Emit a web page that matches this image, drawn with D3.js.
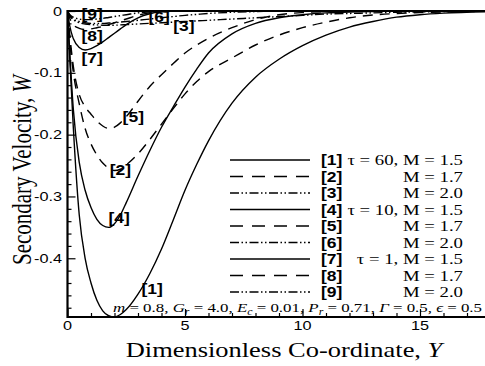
<!DOCTYPE html>
<html>
<head>
<meta charset="utf-8">
<script src="https://cdn.jsdelivr.net/npm/d3@7/dist/d3.min.js"></script>
<style>
  html, body { margin: 0; padding: 0; background: #fff; }
  svg { display: block; }
  .serif { font-family: "Liberation Serif", "Times New Roman", "DejaVu Serif", serif; }
  .sans { font-family: "Liberation Sans", Arial, sans-serif; }
</style>
</head>
<body>
<svg id="chart" width="485" height="366"></svg>
<script>
// Dimensionless coordinate Y at which each profile is tabulated
const yCoord = [0, 0.1, 0.25, 0.5, 0.75, 1, 1.25, 1.5, 1.75, 2, 2.25, 2.5, 3, 3.5, 4, 4.5, 5, 5.5, 6, 7, 8, 9, 10, 11, 12, 13, 14, 15, 16, 18, 20];

// Secondary velocity W for each (tau, M) case
const w1 = [0, -0.08, -0.19, -0.33, -0.40, -0.44, -0.468, -0.485, -0.493, -0.495, -0.491, -0.483, -0.458, -0.425, -0.385, -0.338, -0.29, -0.248, -0.21, -0.149, -0.107, -0.078, -0.056, -0.039, -0.026, -0.017, -0.010, -0.006, -0.0035, -0.001, 0];
const w2 = [0, -0.05, -0.10, -0.15, -0.19, -0.215, -0.233, -0.246, -0.254, -0.258, -0.256, -0.249, -0.231, -0.208, -0.183, -0.158, -0.134, -0.114, -0.098, -0.076, -0.055, -0.039, -0.027, -0.018, -0.011, -0.0065, -0.004, -0.0025, -0.0015, -0.0005, 0];
const w3 = [0, -0.008, -0.014, -0.019, -0.021, -0.022, -0.0225, -0.023, -0.023, -0.023, -0.0225, -0.022, -0.021, -0.02, -0.019, -0.018, -0.017, -0.016, -0.015, -0.013, -0.011, -0.009, -0.007, -0.005, -0.004, -0.003, -0.002, -0.0015, -0.001, -0.0005, 0];
const w4 = [0, -0.07, -0.16, -0.245, -0.29, -0.318, -0.337, -0.347, -0.35, -0.344, -0.33, -0.31, -0.267, -0.226, -0.188, -0.155, -0.123, -0.094, -0.068, -0.037, -0.02, -0.011, -0.006, -0.003, -0.0015, -0.0008, -0.0004, 0, 0, 0, 0];
const w5 = [0, -0.04, -0.09, -0.135, -0.155, -0.167, -0.178, -0.186, -0.19, -0.188, -0.181, -0.171, -0.146, -0.122, -0.103, -0.085, -0.068, -0.055, -0.044, -0.027, -0.014, -0.006, -0.0025, -0.001, 0, 0, 0, 0, 0, 0, 0];
const w6 = [0, -0.007, -0.013, -0.017, -0.019, -0.02, -0.02, -0.02, -0.0195, -0.019, -0.018, -0.017, -0.015, -0.013, -0.011, -0.009, -0.007, -0.0055, -0.004, -0.002, -0.001, 0, 0, 0, 0, 0, 0, 0, 0, 0, 0];
const w7 = [0, -0.025, -0.045, -0.059, -0.063, -0.061, -0.056, -0.05, -0.043, -0.036, -0.029, -0.022, -0.011, -0.0045, -0.0015, -0.0005, 0, 0, 0, 0, 0, 0, 0, 0, 0, 0, 0, 0, 0, 0, 0];
const w8 = [0, -0.012, -0.022, -0.028, -0.03, -0.029, -0.027, -0.025, -0.022, -0.019, -0.016, -0.013, -0.007, -0.003, -0.001, 0, 0, 0, 0, 0, 0, 0, 0, 0, 0, 0, 0, 0, 0, 0, 0];
const w9 = [0, -0.006, -0.01, -0.013, -0.014, -0.014, -0.013, -0.012, -0.0105, -0.009, -0.0075, -0.006, -0.003, -0.0015, -0.0005, 0, 0, 0, 0, 0, 0, 0, 0, 0, 0, 0, 0, 0, 0, 0, 0];

const seriesIds = ["[1]", "[2]", "[3]", "[4]", "[5]", "[6]", "[7]", "[8]", "[9]"];
const tauText = ["\u03C4 = 60, M = 1.5", "M = 1.7", "M = 2.0", "\u03C4 = 10, M = 1.5", "M = 1.7", "M = 2.0", "\u03C4 = 1, M = 1.5", "M = 1.7", "M = 2.0"];
const lineKind = ["solid", "dash", "dashdot", "solid", "dash", "dashdot", "solid", "dash", "dashdot"];
const seriesW = [w1, w2, w3, w4, w5, w6, w7, w8, w9];

// Curve labels placed inside the plot, in data units
const tagY = [3.6, 2.25, 4.95, 2.2, 2.8, 3.9, 1.05, 1.05, 1.05];
const tagW = [-0.45, -0.258, -0.025, -0.335, -0.171, -0.01, -0.076, -0.04, -0.005];

const xTicks = [0, 5, 10, 15];
const yTicks = [0, -0.1, -0.2, -0.3, -0.4];

const svg = d3.select("#chart");
const plotLeft = 67.5, plotTop = 11, plotBottom = 317, unit = 23.5;
const wide = 1.25; // horizontal stretch of the lettering

const x = d3.scaleLinear().domain([0, 20]).range([plotLeft, plotLeft + 20 * unit]);
const y = d3.scaleLinear().domain([-0.495, 0]).range([plotBottom, plotTop]);

const dashes = { solid: null, dash: "10,7", dashdot: "9,2.5,1.5,2.5,1.5,2.5" };

// Text helper: anchored at (px, py), stretched horizontally
function label(parent, px, py, cls, size, anchor, sx) {
  return parent.append("text")
    .attr("class", cls)
    .attr("transform", `translate(${px},${py}) scale(${sx || wide},1)`)
    .attr("text-anchor", anchor)
    .attr("font-size", size);
}

svg.append("clipPath").attr("id", "plotClip")
  .append("rect").attr("x", plotLeft).attr("y", plotTop - 1).attr("width", 600).attr("height", plotBottom - plotTop + 1);

const line = d3.line()
  .x(d => x(d[0]))
  .y(d => y(d[1]))
  .curve(d3.curveMonotoneX);

const curves = svg.append("g").attr("clip-path", "url(#plotClip)");
seriesW.forEach((w, i) => {
  curves.append("path")
    .datum(yCoord.map((v, k) => [v, w[k]]))
    .attr("d", line)
    .attr("fill", "none")
    .attr("stroke", "#000")
    .attr("stroke-width", 1.4)
    .attr("stroke-dasharray", dashes[lineKind[i]]);
});

// Axes with inward ticks
const xAxis = d3.axisTop(x).tickValues(d3.range(0, 21, 1)).tickSize(4).tickFormat("");
const gx = svg.append("g").attr("transform", `translate(0,${plotBottom})`).call(xAxis);
gx.selectAll(".tick line").attr("y2", d => d % 5 === 0 ? -8 : -4);
gx.select(".domain").remove();

const yMinor = d3.range(0, 25).map(k => -k * 0.02);
const yAxis = d3.axisRight(y).tickValues(yMinor).tickSize(4).tickFormat("");
const gy = svg.append("g").attr("transform", `translate(${plotLeft},0)`).call(yAxis);
gy.selectAll(".tick line").attr("x2", d => Math.abs(Math.round(d * 100)) % 10 === 0 ? 8 : 4);
gy.select(".domain").remove();
svg.selectAll(".tick line").attr("stroke", "#000").attr("stroke-width", 1.2);

// Frame
svg.append("line").attr("x1", plotLeft).attr("x2", 485).attr("y1", plotBottom).attr("y2", plotBottom).attr("stroke", "#000").attr("stroke-width", 2.2);
svg.append("line").attr("x1", plotLeft).attr("x2", 485).attr("y1", plotTop).attr("y2", plotTop).attr("stroke", "#000").attr("stroke-width", 2);
svg.append("line").attr("x1", plotLeft).attr("x2", plotLeft).attr("y1", plotTop - 1).attr("y2", plotBottom + 1).attr("stroke", "#000").attr("stroke-width", 2.2);

// Tick labels
const tickG = svg.append("g");
xTicks.forEach(v => label(tickG, x(v), 330, "sans", 13, "middle").text(v));
yTicks.forEach(v => label(tickG, 62, y(v) + 4.5, "sans", 13, "end")
  .text(v === 0 ? "0" : "-" + Math.abs(v).toFixed(1)));

// Axis titles
const xt = label(svg, 284, 357, "serif", 21, "middle", 1.26);
xt.append("tspan").text("Dimensionless Co-ordinate, ");
xt.append("tspan").attr("font-style", "italic").text("Y");

const yt = svg.append("text").attr("class", "serif")
  .attr("transform", `translate(31,170) scale(${wide},1) rotate(-90)`)
  .attr("text-anchor", "middle")
  .attr("font-size", 21);
yt.append("tspan").text("Secondary Velocity, ");
yt.append("tspan").attr("font-style", "italic").text("W");

// Curve tags
const tagG = svg.append("g");
seriesIds.forEach((id, i) => {
  label(tagG, x(tagY[i]), y(tagW[i]) + 5, "sans", 14, "middle")
    .attr("font-weight", "bold").text(id);
});

// Legend
const legRow0 = 160, legStep = 16.5;
const leg = svg.append("g");
seriesIds.forEach((id, i) => {
  const cy = legRow0 + i * legStep;
  leg.append("line").attr("x1", 230).attr("x2", 310).attr("y1", cy).attr("y2", cy)
    .attr("stroke", "#000").attr("stroke-width", 1.4)
    .attr("stroke-dasharray", lineKind[i] === "dash" ? "13,9" : dashes[lineKind[i]]);
  label(leg, 321, cy + 5, "sans", 14, "start").attr("font-weight", "bold").text(id);
  label(leg, 463, cy + 5, "serif", 15, "end").text(tauText[i]);
});

// Parameter note along the bottom of the plot
const note = label(svg, 113, 311.5, "serif", 13.5, "start");
const parts = [
  ["m", true], [" = 0.8, ", false], ["G", true], ["r", true, true], [" = 4.0, ", false],
  ["E", true], ["c", true, true], [" = 0.01, ", false], ["P", true], ["r", true, true], [" = 0.71, ", false],
  ["\u0393", true], [" = 0.5, ", false], ["\u03F5", true], [" = 0.5", false]
];
let wasSub = false;
parts.forEach(p => {
  const t = note.append("tspan").text(p[0]);
  if (p[1]) t.attr("font-style", "italic");
  if (p[2]) { t.attr("font-size", 9.5).attr("dy", 3); wasSub = true; }
  else if (wasSub) { t.attr("dy", -3); wasSub = false; }
});
</script>
</body>
</html>
